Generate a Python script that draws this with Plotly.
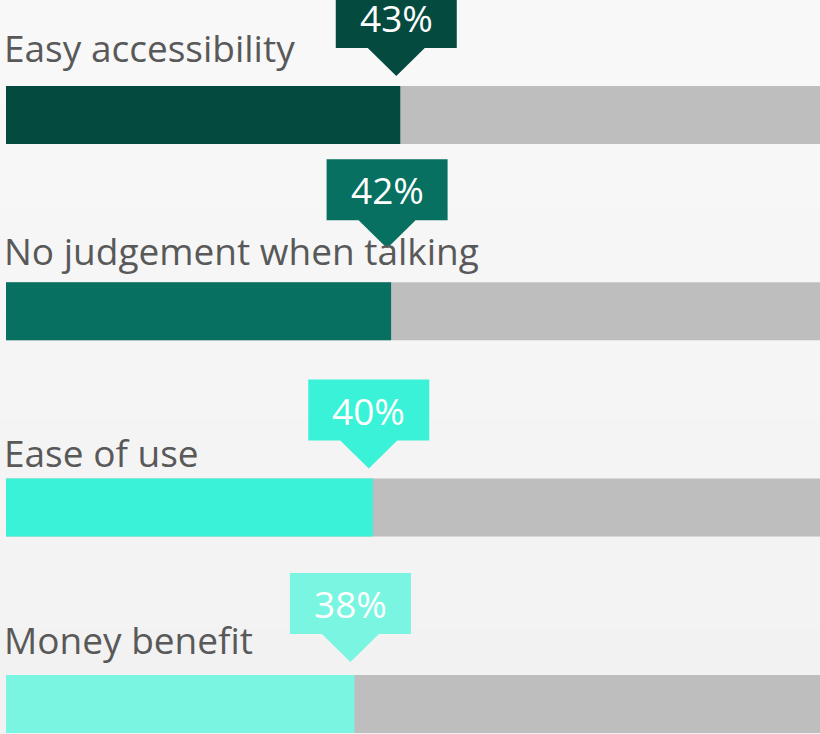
import plotly.graph_objects as go

# Survey results: share of respondents naming each reason
categories = ["Easy accessibility", "No judgement when talking", "Ease of use", "Money benefit"]
values = [43, 42, 40, 38]
value_labels = ["43%", "42%", "40%", "38%"]
track_max = [100, 100, 100, 100]

# Styling
bar_colors = ["#044a3f", "#077060", "#3af2d8", "#7af5e2"]
track_color = "#bebebe"
label_color = "#595959"
font_family = "Open Sans, Noto Sans, sans-serif"
font_size = 37

W, H = 820, 734
bar_px = 58            # bar thickness in pixels
row_px = 196.3         # distance between bar centres
px_per_unit = 9.169    # horizontal pixels per percentage point
x_origin_px = 6        # pixel where 0% sits
first_centre_px = 115  # centre of the top bar

# Callout geometry (pixels)
box_w, box_h = 121, 61
tri_w, tri_h = 57, 28
tip_gap = [10, 34, 10, 13]     # space between bar top and callout tip
label_lift = [23, 16, 11, 20]  # space between bar top and label baseline
tip_dx = -4

x_range = [-x_origin_px / px_per_unit, (W - x_origin_px) / px_per_unit]
# category axis: top bar is index 0, so the range runs from bottom to top
y_range = [(H - first_centre_px) / row_px, -first_centre_px / row_px]
bar_width = bar_px / row_px

fig = go.Figure()

# Grey background tracks
fig.add_trace(go.Bar(
    y=categories, x=track_max, orientation="h",
    marker=dict(color=track_color, line=dict(width=0)),
    width=bar_width, hoverinfo="skip", showlegend=False,
))
# Coloured value bars
fig.add_trace(go.Bar(
    y=categories, x=values, orientation="h",
    marker=dict(color=bar_colors, line=dict(width=0)),
    width=bar_width, showlegend=False,
))

shapes = []
# Soft vertical background gradient
grad = ["#f8f8f8", "#f7f7f7", "#f6f6f6", "#f5f5f5", "#f4f4f4", "#f3f3f3", "#f2f2f2"]
n = len(grad)
for k, c in enumerate(grad):
    shapes.append(dict(
        type="rect", xref="paper", yref="paper",
        x0=0, x1=1, y0=1 - (k + 1) / n, y1=1 - k / n,
        fillcolor=c, line=dict(width=0), layer="below",
    ))

annotations = []
half = bar_px / 2
for i, (cat, v, lab) in enumerate(zip(categories, values, value_labels)):
    t = half + tip_gap[i]
    b = t + tri_h
    top = b + box_h
    hw, tw = box_w / 2, tri_w / 2
    d = tip_dx
    # callout box with a downward pointer ending just above the bar end
    path = (
        f"M {-hw + d},{b} L {-tw + d},{b} L {d},{t} L {tw + d},{b} "
        f"L {hw + d},{b} L {hw + d},{top} L {-hw + d},{top} Z"
    )
    shapes.append(dict(
        type="path", xref="x", yref="y",
        xsizemode="pixel", ysizemode="pixel",
        xanchor=v, yanchor=i, path=path,
        fillcolor=bar_colors[i], line=dict(width=0), layer="above",
    ))
    annotations.append(dict(
        x=v, y=i, xref="x", yref="y", text=lab, showarrow=False,
        xanchor="center", yanchor="middle",
        xshift=d, yshift=b + box_h / 2,
        font=dict(family=font_family, size=font_size, color="white"),
    ))
    annotations.append(dict(
        x=0, y=i, xref="paper", yref="y", text=cat, showarrow=False,
        xanchor="left", yanchor="bottom",
        xshift=2, yshift=half + label_lift[i] - 12,
        font=dict(family=font_family, size=font_size, color=label_color),
    ))

fig.update_layout(
    width=W, height=H,
    margin=dict(l=0, r=0, t=0, b=0),
    paper_bgcolor="#f5f5f5", plot_bgcolor="rgba(0,0,0,0)",
    barmode="overlay",
    xaxis=dict(range=x_range, visible=False, fixedrange=True),
    yaxis=dict(type="category", range=y_range, visible=False, fixedrange=True),
    shapes=shapes, annotations=annotations,
    font=dict(family=font_family),
)

fig.write_html("out.html")
